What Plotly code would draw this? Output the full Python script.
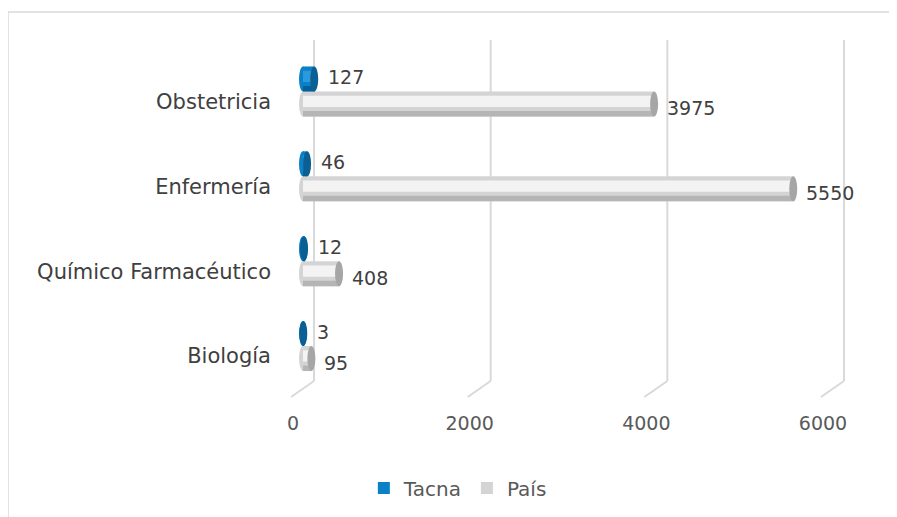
import plotly.graph_objects as go

categories = ["Obstetricia", "Enfermería", "Químico Farmacéutico", "Biología"]
positions = [3, 2, 1, 0]
tacna = [127, 46, 12, 3]
pais = [3975, 5550, 408, 95]
x_ticks = [0, 2000, 4000, 6000]

W = 0.295          # bar thickness (y units)
OFF_T = 0.0        # Tacna bar offset
OFF_P = -W         # País bar offset

FONT = "DejaVu Sans"
TXT = "#404040"

fig = go.Figure()

series = [
    ("Tacna", tacna, OFF_T, "#0a80c6", "#075f98", "#2c99db", "#0b5f93"),
    ("País", pais, OFF_P, "#d4d4d4", "#b5b5b5", "#f3f3f3", "#a6a6a6"),
]

# base bars (legend)
for name, vals, off, base, dark, light, cap in series:
    fig.add_trace(go.Bar(
        name=name, x=vals, y=positions, orientation="h",
        width=W, offset=off, marker=dict(color=base, line=dict(width=0)),
        hoverinfo="x+name",
    ))
# shading bands
for name, vals, off, base, dark, light, cap in series:
    fig.add_trace(go.Bar(
        x=vals, y=positions, orientation="h", showlegend=False,
        width=W * 0.22, offset=off, marker=dict(color=dark, line=dict(width=0)),
        hoverinfo="skip",
    ))
    fig.add_trace(go.Bar(
        x=vals, y=positions, orientation="h", showlegend=False,
        width=W * 0.45, offset=off + W * 0.38, marker=dict(color=light, line=dict(width=0)),
        hoverinfo="skip",
    ))

shapes = []
# 3D-style gridlines (back wall + floor diagonal)
floor = (397 - 381) / 357
for v in x_ticks:
    shapes.append(dict(type="line", xref="x", xsizemode="pixel", xanchor=v,
                       x0=11, x1=11, yref="paper", y0=floor, y1=1,
                       line=dict(color="#d9d9d9", width=2), layer="below"))
    shapes.append(dict(type="line", xref="x", xsizemode="pixel", xanchor=v,
                       x0=11, x1=-12, yref="paper", y0=floor, y1=0,
                       line=dict(color="#d9d9d9", width=2), layer="below"))

# cylinder end caps
for name, vals, off, base, dark, light, cap in series:
    for p, v in zip(positions, vals):
        shapes.append(dict(type="circle", xref="x", xsizemode="pixel", xanchor=0,
                           x0=-4, x1=4, yref="y", y0=p + off, y1=p + off + W,
                           fillcolor=base, line=dict(width=0), layer="below"))
        shapes.append(dict(type="circle", xref="x", xsizemode="pixel", xanchor=v,
                           x0=-4, x1=4, yref="y", y0=p + off, y1=p + off + W,
                           fillcolor=cap, line=dict(width=0), layer="above"))

# outer chart border
shapes.append(dict(type="rect", xref="paper", yref="paper",
                   x0=(8 - 285) / 565, x1=(905 - 285) / 565,
                   y0=(397 - 525) / 357, y1=(397 - 12) / 357,
                   line=dict(color="#d9d9d9", width=1.5), fillcolor="rgba(0,0,0,0)"))

annotations = []
for p, v in zip(positions, tacna):
    annotations.append(dict(x=v, y=p + OFF_T + W / 2, xref="x", yref="y", text=str(v),
                            showarrow=False, xanchor="left", xshift=12, yshift=2,
                            font=dict(family=FONT, size=19, color=TXT)))
for p, v in zip(positions, pais):
    annotations.append(dict(x=v, y=p + OFF_P + W / 2, xref="x", yref="y", text=str(v),
                            showarrow=False, xanchor="left", xshift=11, yshift=-4,
                            font=dict(family=FONT, size=19, color=TXT)))

fig.update_layout(
    width=889, height=509, autosize=False,
    margin=dict(l=277, r=47, t=32, b=120, pad=0),
    paper_bgcolor="white", plot_bgcolor="white",
    barmode="overlay",
    font=dict(family=FONT, size=18, color=TXT),
    shapes=shapes, annotations=annotations,
    showlegend=True,
    legend=dict(orientation="h", xref="container", yref="container",
                x=0.506, y=0.057, xanchor="center", yanchor="middle",
                font=dict(family=FONT, size=20, color="#595959"),
                itemclick=False, itemdoubleclick=False),
    xaxis=dict(range=[-203.8, 6192.6], tickvals=x_ticks, showgrid=False, zeroline=False,
               showline=False, ticks="", ticklabelshift=-10, ticklabelstandoff=13,
               tickfont=dict(family=FONT, size=19, color="#595959"), fixedrange=True),
    yaxis=dict(range=[-0.601, 3.607], tickvals=positions, ticktext=categories,
               showgrid=False, zeroline=False, showline=False, ticks="",
               ticklabelstandoff=13, ticklabelshift=10,
               tickfont=dict(family=FONT, size=21, color=TXT), fixedrange=True),
)

fig.write_html("out.html")
